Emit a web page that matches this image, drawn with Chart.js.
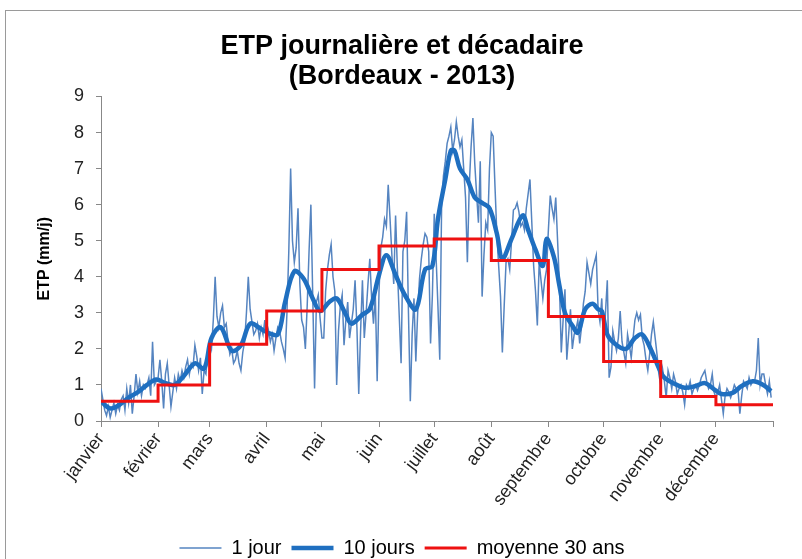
<!DOCTYPE html>
<html>
<head>
<meta charset="utf-8">
<script src="https://cdn.jsdelivr.net/npm/chart.js@4/dist/chart.umd.min.js"></script>
<style>
  body { margin: 0; background: #fff; }
</style>
</head>
<body>
<canvas id="etp" width="802" height="559"></canvas>
<script>
// mois et début de mois (jour de l'année)
const months = ['janvier', 'février', 'mars', 'avril', 'mai', 'juin', 'juillet', 'août', 'septembre', 'octobre', 'novembre', 'décembre'];
const monthStart = [0, 31, 59, 90, 120, 151, 181, 212, 243, 273, 304, 334, 365];

// moyenne 30 ans, une valeur par mois
const moyenne30 = [0.55, 1.0, 2.13, 3.05, 4.2, 4.85, 5.05, 4.45, 2.9, 1.65, 0.68, 0.45];

// ETP journalière 2013 (mm/j)
const etpJan = [0.9, 0.6, 0.3, 0.15, 0.4, 0.1, 0.3, 0.5, 0.2, 0.45, 0.3, 0.6, 0.7, 0.3, 0.9, 0.5, 1.0, 0.2, 0.7, 1.3, 0.8, 1.1, 0.7, 1.0, 0.9, 1.0, 1.2, 0.7, 2.2, 1.0, 1.1];
const etpFev = [1.2, 1.7, 1.1, 0.35, 1.3, 1.6, 1.0, 0.4, 0.8, 1.2, 0.9, 1.3, 1.1, 1.4, 1.2, 1.5, 1.7, 1.3, 1.6, 1.5, 2.1, 1.8, 1.4, 1.75, 0.75, 1.4, 1.3, 1.9];
const etpMar = [2.2, 2.0, 2.8, 4.0, 2.9, 2.6, 3.0, 3.2, 2.6, 2.7, 2.2, 1.85, 2.0, 1.6, 1.7, 1.95, 1.6, 1.4, 1.9, 2.2, 3.0, 4.0, 3.1, 2.75, 2.4, 2.5, 2.7, 2.3, 2.6, 2.4, 2.8];
const etpAvr = [2.1, 2.5, 2.2, 2.4, 1.95, 2.3, 2.6, 2.5, 2.2, 2.0, 1.75, 3.0, 4.7, 7.0, 5.0, 4.4, 4.8, 5.9, 3.8, 2.8, 2.6, 2.0, 3.2, 4.7, 6.0, 3.5, 0.9, 3.3, 3.5, 2.85];
const etpMai = [2.3, 2.3, 3.6, 4.2, 4.6, 4.9, 4.0, 3.6, 1.0, 2.5, 3.2, 3.5, 2.1, 2.8, 3.3, 2.3, 2.7, 3.1, 3.9, 2.6, 0.75, 2.5, 3.9, 2.3, 3.0, 3.8, 4.5, 3.4, 2.7, 3.5, 1.1];
const etpJuin = [3.6, 4.8, 5.1, 5.6, 5.4, 6.55, 5.6, 4.6, 3.8, 5.7, 4.2, 2.9, 1.6, 4.7, 5.0, 5.8, 3.0, 0.55, 2.4, 3.4, 1.65, 3.0, 3.95, 4.5, 4.9, 5.2, 5.1, 4.7, 2.15, 3.5];
const etpJuil = [5.75, 4.55, 3.2, 1.7, 5.95, 6.8, 7.2, 7.7, 7.9, 8.15, 7.5, 7.8, 8.3, 7.9, 7.6, 7.8, 7.0, 6.2, 4.4, 6.5, 7.6, 8.4, 7.15, 6.3, 5.5, 7.2, 3.45, 4.6, 5.5, 5.3, 7.0];
const etpAout = [8.0, 7.9, 6.5, 5.2, 4.3, 3.45, 1.9, 3.2, 4.4, 4.5, 4.2, 5.0, 5.85, 5.9, 6.05, 5.8, 5.4, 5.5, 5.3, 5.9, 6.3, 6.7, 5.5, 4.3, 3.6, 2.65, 4.4, 3.9, 3.4, 3.9, 4.2];
const etpSep = [5.3, 6.25, 5.9, 5.6, 6.2, 5.0, 3.8, 1.9, 2.8, 3.65, 1.7, 2.4, 3.1, 2.0, 2.4, 2.55, 2.8, 2.15, 2.6, 3.25, 3.6, 4.4, 4.1, 3.8, 4.2, 4.4, 4.6, 3.1, 2.75, 3.4];
const etpOct = [2.0, 3.0, 3.9, 1.2, 1.5, 2.5, 2.2, 1.95, 2.3, 3.05, 2.2, 1.9, 1.6, 2.4, 2.1, 1.75, 2.3, 2.8, 3.0, 2.8, 2.95, 2.3, 2.1, 1.7, 1.4, 1.85, 2.4, 2.75, 2.3, 1.85, 1.3];
const etpNov = [1.0, 1.45, 1.1, 0.65, 1.4, 1.2, 0.9, 1.3, 1.1, 0.75, 0.9, 1.0, 0.8, 0.45, 1.0, 0.9, 1.1, 0.75, 0.9, 1.0, 0.85, 1.0, 1.2, 1.3, 1.4, 1.1, 0.9, 1.0, 1.3, 0.8];
const etpDec = [0.65, 0.8, 1.0, 0.6, 0.2, 0.7, 0.9, 0.8, 0.65, 0.8, 1.0, 0.9, 0.85, 0.2, 0.7, 1.1, 1.0, 0.9, 1.2, 1.0, 1.1, 1.1, 1.4, 2.3, 1.0, 1.3, 1.3, 1.0, 0.75, 1.1, 0.65];

const decadeDays = [0, 5, 10, 15, 20, 25, 30, 35, 40, 45, 51, 56, 60, 65, 71, 76, 81, 87, 91, 96, 100, 105, 110, 115, 119, 124, 128, 133, 136, 142, 146, 151, 155, 160, 165, 171, 176, 180, 183, 187, 190, 192, 195, 199, 203, 207, 211, 215, 218, 223, 229, 232, 236, 240, 242, 246, 249, 252, 256, 259, 263, 267, 270, 272, 275, 279, 285, 290, 294, 299, 303, 306, 312, 317, 323, 328, 333, 337, 343, 348, 354, 359, 364];
const decadeEtp = [0.55, 0.35, 0.45, 0.65, 0.8, 1.0, 1.15, 1.05, 1.0, 1.25, 1.6, 1.45, 2.3, 2.6, 1.95, 2.1, 2.7, 2.55, 2.44, 2.4, 3.3, 4.15, 3.95, 3.4, 3.05, 3.3, 3.4, 2.95, 2.7, 2.95, 3.1, 4.05, 4.6, 4.05, 3.5, 3.1, 4.2, 4.3, 5.6, 6.7, 7.5, 7.5, 7.0, 6.7, 6.2, 6.05, 5.9, 5.2, 4.5, 5.05, 5.7, 5.3, 4.75, 4.3, 5.05, 4.55, 3.75, 3.0, 2.65, 2.45, 3.1, 3.25, 3.1, 3.05, 2.4, 2.15, 2.0, 2.3, 2.4, 1.95, 1.47, 1.2, 1.02, 0.92, 0.97, 1.05, 0.88, 0.75, 0.78, 0.97, 1.1, 1.02, 0.83];

const daily = [].concat(etpJan, etpFev, etpMar, etpAvr, etpMai, etpJuin, etpJuil, etpAout, etpSep, etpOct, etpNov, etpDec);
const dailyPts = daily.map((v, i) => ({x: i, y: v}));
const decadePts = decadeDays.map((d, i) => ({x: d, y: decadeEtp[i]}));
const moyPts = monthStart.map((d, i) => ({x: d, y: moyenne30[Math.min(i, 11)]}));

const font = 'Liberation Sans, Arial, sans-serif';

// cadre gris autour du graphique
const framePlugin = {
    id: 'frame',
    beforeDraw(chart) {
        const c = chart.ctx;
        c.save();
        c.fillStyle = '#fff';
        c.fillRect(0, 0, chart.width, chart.height);
        c.strokeStyle = '#9a9a9a';
        c.lineWidth = 1;
        c.strokeRect(5.5, 10.5, 800, 560);
        c.restore();
    }
};

const ctx = document.getElementById('etp').getContext('2d');
const chart = new Chart(ctx, {
    type: 'line',
    data: {
        datasets: [{
            label: '1 jour',
            data: dailyPts,
            borderColor: '#5584c0',
            borderWidth: 1.5,
            pointRadius: 0,
            tension: 0,
            order: 3
        }, {
            label: '10 jours',
            data: decadePts,
            borderColor: '#1f6fc0',
            borderWidth: 4.5,
            pointRadius: 0,
            tension: 0.35,
            order: 2
        }, {
            label: 'moyenne 30 ans',
            data: moyPts,
            borderColor: '#ee1111',
            borderWidth: 3,
            pointRadius: 0,
            stepped: true,
            order: 1
        }]
    },
    options: {
        responsive: false,
        animation: false,
        layout: {padding: {left: 31, right: 29, top: 0, bottom: -9}},
        plugins: {
            title: {
                display: true,
                text: ['ETP journalière et décadaire', '(Bordeaux - 2013)'],
                color: '#000',
                font: {family: font, size: 27, weight: 'bold', lineHeight: 1.12},
                padding: {top: 31, bottom: 5}
            },
            legend: {
                position: 'bottom',
                labels: {
                    usePointStyle: true,
                    pointStyle: 'line',
                    pointStyleWidth: 42,
                    color: '#000',
                    font: {family: font, size: 20},
                    padding: 10,
                    sort: (a, b) => a.datasetIndex - b.datasetIndex
                }
            },
            tooltip: {enabled: false}
        },
        scales: {
            x: {
                type: 'linear',
                min: 0,
                max: 365,
                afterBuildTicks: scale => {
                    scale.ticks = monthStart.map(v => ({value: v}));
                },
                afterFit: scale => { scale.height = 107; },
                ticks: {
                    autoSkip: false,
                    maxRotation: 53,
                    minRotation: 53,
                    color: '#222',
                    font: {family: font, size: 18},
                    padding: 2,
                    callback: (v, i) => months[i] || ''
                },
                grid: {drawOnChartArea: false, tickLength: 6, color: '#888'},
                border: {color: '#888'}
            },
            y: {
                min: 0,
                max: 9,
                ticks: {stepSize: 1, color: '#222', font: {family: font, size: 18}, padding: 12},
                grid: {drawOnChartArea: false, tickLength: 5, color: '#888'},
                border: {color: '#888'},
                title: {display: true, text: 'ETP (mm/j)', color: '#000', font: {family: font, size: 16, weight: 'bold'}},
                afterFit: scale => { scale.width = 70; }
            }
        }
    },
    plugins: [framePlugin]
});
</script>
</body>
</html>
